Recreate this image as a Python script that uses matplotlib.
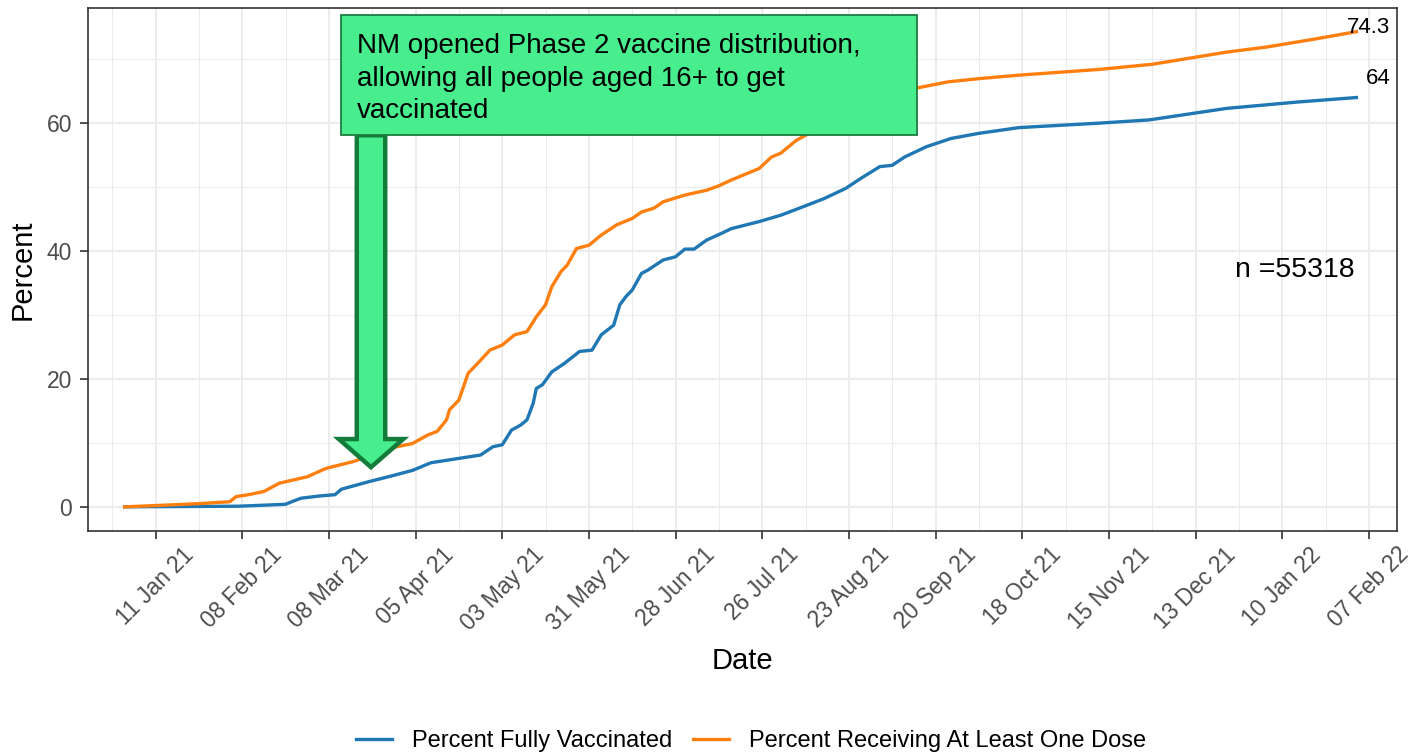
import matplotlib
matplotlib.use("Agg")
import matplotlib.pyplot as plt
import matplotlib.dates as mdates
from matplotlib.patches import Rectangle, Polygon
from matplotlib.ticker import FixedLocator
import pandas as pd
import numpy as np

plt.rcParams['font.family'] = ['Liberation Sans', 'DejaVu Sans']

# ---------------- data ----------------
dose1_dates = ["2021-01-01", "2021-01-11", "2021-01-25", "2021-02-04", "2021-02-06", "2021-02-10",
               "2021-02-15", "2021-02-20", "2021-03-01", "2021-03-07", "2021-03-16", "2021-03-23",
               "2021-03-30", "2021-04-04", "2021-04-09", "2021-04-12", "2021-04-15", "2021-04-16",
               "2021-04-19", "2021-04-22", "2021-04-25", "2021-04-29", "2021-05-03", "2021-05-07",
               "2021-05-11", "2021-05-14", "2021-05-17", "2021-05-19", "2021-05-22", "2021-05-24",
               "2021-05-27", "2021-05-31", "2021-06-04", "2021-06-09", "2021-06-14", "2021-06-17",
               "2021-06-21", "2021-06-24", "2021-07-01", "2021-07-08", "2021-07-12", "2021-07-16",
               "2021-07-25", "2021-07-29", "2021-08-01", "2021-08-06", "2021-08-09", "2021-08-20",
               "2021-08-30", "2021-09-08", "2021-09-13", "2021-09-24", "2021-10-05", "2021-10-17",
               "2021-11-12", "2021-11-29", "2021-12-23", "2022-01-05", "2022-01-20", "2022-02-03"]
dose1_pct = [0.0, 0.2, 0.5, 0.8, 1.6, 1.9,
             2.4, 3.7, 4.7, 6.0, 7.1, 8.3,
             9.4, 9.9, 11.25, 11.8, 13.6, 15.2,
             16.7, 20.9, 22.4, 24.5, 25.3, 26.9,
             27.4, 29.7, 31.6, 34.4, 36.8, 37.8,
             40.4, 40.9, 42.5, 44.1, 45.1, 46.1,
             46.7, 47.7, 48.75, 49.5, 50.2, 51.1,
             52.9, 54.7, 55.3, 57.3, 58.1, 61.0,
             63.0, 64.6, 65.4, 66.45, 67.0, 67.5,
             68.4, 69.2, 71.1, 71.9, 73.1, 74.3]

full_dates = ["2021-01-01", "2021-02-07", "2021-02-22", "2021-02-24", "2021-02-27", "2021-03-05",
              "2021-03-10", "2021-03-12", "2021-03-21", "2021-03-28", "2021-04-04", "2021-04-10",
              "2021-04-18", "2021-04-26", "2021-04-30", "2021-05-03", "2021-05-06", "2021-05-09",
              "2021-05-11", "2021-05-13", "2021-05-14", "2021-05-16", "2021-05-19", "2021-05-23",
              "2021-05-28", "2021-06-01", "2021-06-04", "2021-06-08", "2021-06-10", "2021-06-12",
              "2021-06-14", "2021-06-17", "2021-06-19", "2021-06-24", "2021-06-28", "2021-07-01",
              "2021-07-04", "2021-07-08", "2021-07-13", "2021-07-16", "2021-07-25", "2021-08-01",
              "2021-08-07", "2021-08-15", "2021-08-22", "2021-08-27", "2021-09-02", "2021-09-06",
              "2021-09-10", "2021-09-17", "2021-09-25", "2021-10-04", "2021-10-17", "2021-11-12",
              "2021-11-28", "2021-12-23", "2022-01-15", "2022-02-03"]
full_pct = [0.0, 0.1, 0.4, 0.8, 1.35, 1.7,
            1.9, 2.75, 3.95, 4.8, 5.7, 6.9,
            7.5, 8.1, 9.4, 9.7, 12.0, 12.8,
            13.6, 16.2, 18.5, 19.1, 21.1, 22.4,
            24.3, 24.5, 26.9, 28.4, 31.6, 32.9,
            33.9, 36.5, 37.0, 38.6, 39.1, 40.3,
            40.3, 41.7, 42.8, 43.5, 44.6, 45.6,
            46.7, 48.2, 49.8, 51.4, 53.2, 53.4,
            54.7, 56.3, 57.6, 58.4, 59.3, 60.0,
            60.5, 62.3, 63.3, 64.0]

series_labels = ["Percent Fully Vaccinated", "Percent Receiving At Least One Dose"]
series_colors = ["#1F77B4", "#FF7F0E"]
y_ticks = [0, 20, 40, 60]
annotation_text = "NM opened Phase 2 vaccine distribution,\nallowing all people aged 16+ to get\nvaccinated"
n_text = "n =55318"

# ---------------- figure ----------------
fig = plt.figure(figsize=(14.14, 7.55), dpi=100)
ax = fig.add_axes([87.5 / 1414, 1 - 530.5 / 755, (1396.7 - 87.5) / 1414, (530.5 - 8) / 755])

d_full = pd.to_datetime(full_dates)
d_dose = pd.to_datetime(dose1_dates)
l1, = ax.plot(d_full, full_pct, color=series_colors[0], lw=2.4, solid_joinstyle='round', zorder=3)
l2, = ax.plot(d_dose, dose1_pct, color=series_colors[1], lw=2.4, solid_joinstyle='round', zorder=3)

# axes limits
ax.set_xlim(pd.Timestamp("2020-12-20"), pd.Timestamp("2022-02-16"))
ax.set_ylim(-3.7, 78.0)

major = pd.date_range("2021-01-11", "2022-02-07", freq="28D")
minor = pd.date_range("2020-12-28", "2022-02-21", freq="28D")
ax.xaxis.set_major_locator(FixedLocator(mdates.date2num(major)))
ax.xaxis.set_minor_locator(FixedLocator(mdates.date2num(minor)))
ax.xaxis.set_major_formatter(mdates.DateFormatter("%d %b %y"))
ax.set_yticks(y_ticks)
ax.set_yticks([10, 30, 50, 70], minor=True)

ax.grid(which='major', color='#EBEBEB', lw=1.3, zorder=0)
ax.grid(which='minor', color='#EBEBEB', lw=0.7, zorder=0)
ax.set_axisbelow(True)
for s in ax.spines.values():
    s.set_color('#333333')
    s.set_linewidth(1.2)
ax.tick_params(which='major', length=6, width=1.2, color='#333333', labelcolor='#4D4D4D',
               labelsize=16.5, pad=3)
ax.tick_params(axis='y', which='major', pad=5)
ax.tick_params(which='minor', length=0)
for lab in ax.get_xticklabels():
    lab.set_rotation(45)
    lab.set_ha('center')
    lab.set_va('top')

ax.set_xlabel("Date", fontsize=21, labelpad=9)
ax.set_ylabel("Percent", fontsize=21, labelpad=7)

# end labels
ax.text(pd.Timestamp("2022-02-14"), 75.0, "74.3", fontsize=16, ha='right', va='center', zorder=5)
ax.text(pd.Timestamp("2022-02-14"), 66.9, "64", fontsize=16, ha='right', va='center', zorder=5)
ax.text(pd.Timestamp("2022-01-14"), 37.0, n_text, fontsize=20.5, ha='center', va='center', zorder=5)

# annotation box
bx0 = mdates.date2num(pd.Timestamp("2021-03-12"))
bx1 = mdates.date2num(pd.Timestamp("2021-09-14"))
box = Rectangle((bx0, 58.1), bx1 - bx0, 76.9 - 58.1, facecolor='#48EE8E', edgecolor='#1E7B40',
                lw=1.3, zorder=6)
ax.add_patch(box)
ax.text(mdates.date2num(pd.Timestamp("2021-03-17")), 74.1, annotation_text, fontsize=20,
        ha='left', va='top', linespacing=1.33, zorder=7)

# arrow
ax_c = mdates.date2num(pd.Timestamp("2021-03-21")) + 0.6
sw = 4.6   # shaft half width in days
hw = 10.4  # head half width in days
arrow = Polygon([(ax_c - sw, 58.1), (ax_c + sw, 58.1), (ax_c + sw, 10.6), (ax_c + hw, 10.6),
                 (ax_c, 6.2), (ax_c - hw, 10.6), (ax_c - sw, 10.6)], closed=True,
                facecolor='#48EE8E', edgecolor='#137C3B', lw=3.2, joinstyle='miter', zorder=5)
ax.add_patch(arrow)

fig.legend([l1, l2], series_labels, loc='center', bbox_to_anchor=(751 / 1414, 1 - 741 / 755),
           ncol=2, frameon=False, fontsize=17, handlelength=1.55, columnspacing=0.85,
           handletextpad=0.85)

fig.savefig("out.png", dpi=100)
